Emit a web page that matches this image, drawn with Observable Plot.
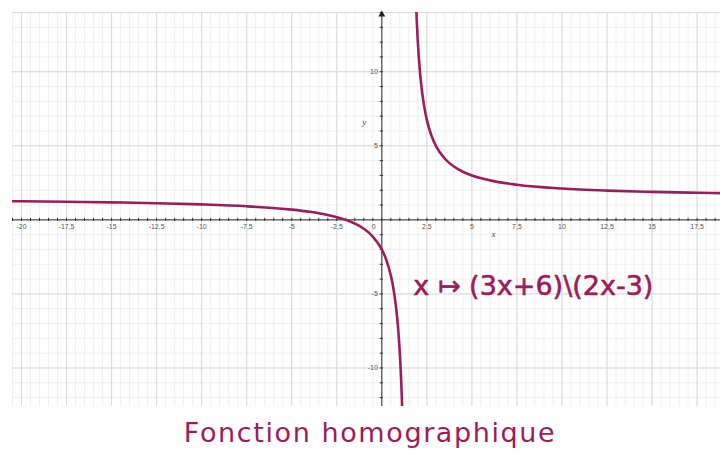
<!DOCTYPE html>
<html>
<head>
<meta charset="utf-8">
<script src="https://cdn.jsdelivr.net/npm/d3@7"></script>
<script src="https://cdn.jsdelivr.net/npm/@observablehq/plot@0.6"></script>
<style>
  html, body { margin: 0; padding: 0; background: #fff; }
  #chart svg { display: block; }
  #title {
    width: 720px; height: 45px; text-align: center;
    font-family: "DejaVu Sans", sans-serif; font-size: 27px; letter-spacing: 1.6px;
    color: #9a1d5c; line-height: 45px; padding-left: 20px; box-sizing: border-box;
  }
</style>
</head>
<body>
<div id="chart"></div>
<div id="title">Fonction homographique</div>
<script>
// Left branch of the curve (x < 1.5)
const leftX = [-20.5, -20, -17.5, -15, -12.5, -10, -7.5, -5, -4, -3, -2, -1, -0.5, 0, 0.25, 0.5, 0.6, 0.75, 0.8, 0.9, 0.95, 1.0, 1.05, 1.08, 1.1, 1.13];
const leftY = [1.26, 1.256, 1.224, 1.182, 1.125, 1.043, 0.917, 0.692, 0.545, 0.333, 0, -0.6, -1.125, -2, -2.7, -3.75, -4.33, -5.5, -6, -7.25, -8.05, -9, -10.17, -11, -11.63, -12.69];
// Right branch of the curve (x > 1.5)
const rightX = [1.92, 1.95, 2.0, 2.05, 2.1, 2.2, 2.25, 2.35, 2.5, 2.75, 3, 3.5, 4, 4.5, 5, 6, 7.5, 10, 12.5, 15, 17.5, 19];
const rightY = [14.0, 13.17, 12, 11.05, 10.25, 9, 8.5, 7.68, 6.75, 5.7, 5, 4.125, 3.6, 3.25, 3, 2.667, 2.375, 2.118, 1.977, 1.889, 1.828, 1.8];

// Axes / grid values
const xMajor = [-20, -17.5, -15, -12.5, -10, -7.5, -5, -2.5, 0, 2.5, 5, 7.5, 10, 12.5, 15, 17.5];
const xMinor = d3.range(-41, 38).map(i => i / 2);
const yMajor = [-10, -5, 0, 5, 10, 14];
const yMinor = d3.range(-12, 15);
const xLabels = ["-20", "-17,5", "-15", "-12,5", "-10", "-7,5", "-5", "-2,5", "0", "2,5", "5", "7,5", "10", "12,5", "15", "17,5"];
const yLabelValues = [10, 5, -5, -10];
const yLabels = ["10", "5", "-5", "-10"];
const annotations = [{x: 1.75, y: -4.5, text: "x \u21A6 (3x+6)\\(2x-3)"}];
const axisNames = [{x: -0.97, y: 6.6, text: "y"}, {x: 6.2, y: -0.95, text: "x"}];

const curveColor = "#9a1d5c";
const left = leftX.map((x, i) => ({x, y: leftY[i]}));
const right = rightX.map((x, i) => ({x, y: rightY[i]}));
const xTicks = xMajor.map((v, i) => ({v, label: xLabels[i]}));
const yTicks = yLabelValues.map((v, i) => ({v, label: yLabels[i]}));
const labelStyle = {fontSize: 7, fill: "#555", fontFamily: "Liberation Sans, sans-serif"};

const chart = Plot.plot({
  width: 720,
  height: 410,
  marginLeft: 12,
  marginRight: 0,
  marginTop: 12,
  marginBottom: 4,
  x: {domain: [-20.5, 18.8], axis: null},
  y: {domain: [-12.6, 14], axis: null},
  marks: [
    Plot.ruleX(xMinor, {stroke: "#f0f0f0", strokeWidth: 1}),
    Plot.ruleY(yMinor, {stroke: "#f0f0f0", strokeWidth: 1}),
    Plot.ruleX(xMajor, {stroke: "#dadada", strokeWidth: 1}),
    Plot.ruleY(yMajor, {stroke: "#dadada", strokeWidth: 1}),
    // axes
    Plot.ruleY([0], {stroke: "#333", strokeWidth: 1}),
    Plot.ruleX([0], {stroke: "#333", strokeWidth: 1}),
    Plot.ruleX(xMinor, {x: d => d, y1: -0.11, y2: 0.11, stroke: "#333", strokeWidth: 1}),
    Plot.ruleY(yMinor.filter(d => d !== 0), {y: d => d, x1: -0.09, x2: 0.09, stroke: "#333", strokeWidth: 1}),
    Plot.dot([0], {x: d => d, y: 14, symbol: "triangle", r: 2.6, fill: "#222", dy: 2}),
    Plot.text(xTicks.filter(d => d.v !== 0), {x: "v", y: 0, text: "label", dy: 7, ...labelStyle}),
    Plot.text(xTicks.filter(d => d.v === 0), {x: "v", y: 0, text: "label", dy: 7, dx: -8, ...labelStyle}),
    Plot.text(yTicks, {x: 0, y: "v", text: "label", dx: -4, textAnchor: "end", ...labelStyle}),
    Plot.text(axisNames, {x: "x", y: "y", text: "text", fontSize: 9, fontStyle: "italic", fill: "#444", fontFamily: "Liberation Serif, serif"}),
    // curve
    Plot.line(left, {x: "x", y: "y", stroke: curveColor, strokeWidth: 2.6, curve: "monotone-x", clip: true}),
    Plot.line(right, {x: "x", y: "y", stroke: curveColor, strokeWidth: 2.6, curve: "monotone-x", clip: true}),
    Plot.text(annotations, {x: "x", y: "y", text: "text", textAnchor: "start", fontSize: 27, fill: curveColor, stroke: curveColor, strokeWidth: 0.6, fontFamily: "DejaVu Sans, sans-serif"})
  ]
});
document.getElementById("chart").appendChild(chart);
</script>
</body>
</html>
